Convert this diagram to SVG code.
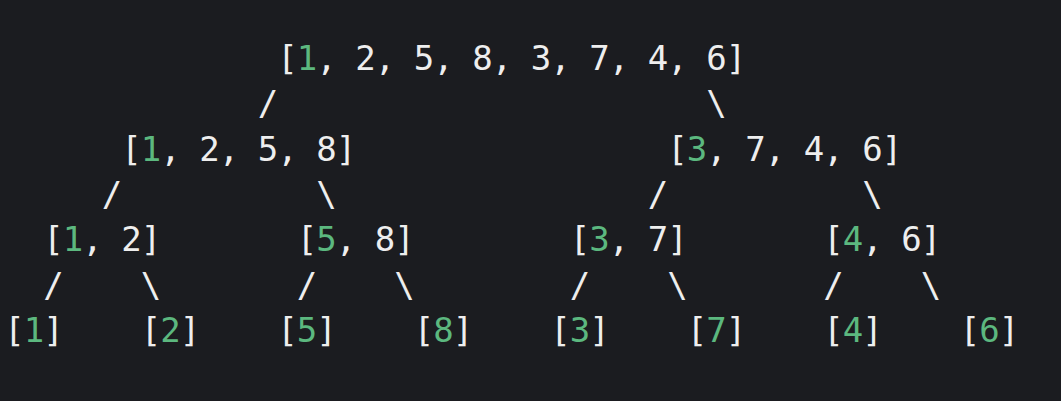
<svg xmlns="http://www.w3.org/2000/svg" width="1061" height="401" viewBox="0 0 1061 401">
<style>
text{font-family:"DejaVu Sans Mono","Liberation Mono",monospace;font-size:34px;letter-spacing:-0.97px;fill:#eeeeee;white-space:pre}
.g{fill:#5cb87f}
</style>
<rect width="1061" height="401" fill="#1b1c20"/>
<g id="connectors">
<text x="257.75" y="115.3">/</text>
<text x="706.25" y="115.3">\</text>
<text x="101.75" y="206">/</text>
<text x="316.25" y="206">\</text>
<text x="647.75" y="206">/</text>
<text x="862.25" y="206">\</text>
<text x="43.25" y="296.7">/</text>
<text x="140.75" y="296.7">\</text>
<text x="296.75" y="296.7">/</text>
<text x="394.25" y="296.7">\</text>
<text x="569.75" y="296.7">/</text>
<text x="667.25" y="296.7">\</text>
<text x="823.25" y="296.7">/</text>
<text x="920.75" y="296.7">\</text>
</g>
<g id="n-root"><text x="277.25" y="70">[<tspan class="g">1</tspan>, 2, 5, 8, 3, 7, 4, 6]</text></g>
<g id="n-1258"><text x="121.25" y="160.7">[<tspan class="g">1</tspan>, 2, 5, 8]</text></g>
<g id="n-3746"><text x="667.25" y="160.7">[<tspan class="g">3</tspan>, 7, 4, 6]</text></g>
<g id="n-12"><text x="43.25" y="251.3">[<tspan class="g">1</tspan>, 2]</text></g>
<g id="n-58"><text x="296.75" y="251.3">[<tspan class="g">5</tspan>, 8]</text></g>
<g id="n-37"><text x="569.75" y="251.3">[<tspan class="g">3</tspan>, 7]</text></g>
<g id="n-46"><text x="823.25" y="251.3">[<tspan class="g">4</tspan>, 6]</text></g>
<g id="n-1"><text x="4.25" y="342">[<tspan class="g">1</tspan>]</text></g>
<g id="n-2"><text x="140.75" y="342">[<tspan class="g">2</tspan>]</text></g>
<g id="n-5"><text x="277.25" y="342">[<tspan class="g">5</tspan>]</text></g>
<g id="n-8"><text x="413.75" y="342">[<tspan class="g">8</tspan>]</text></g>
<g id="n-3"><text x="550.25" y="342">[<tspan class="g">3</tspan>]</text></g>
<g id="n-7"><text x="686.75" y="342">[<tspan class="g">7</tspan>]</text></g>
<g id="n-4"><text x="823.25" y="342">[<tspan class="g">4</tspan>]</text></g>
<g id="n-6"><text x="959.75" y="342">[<tspan class="g">6</tspan>]</text></g>
</svg>
